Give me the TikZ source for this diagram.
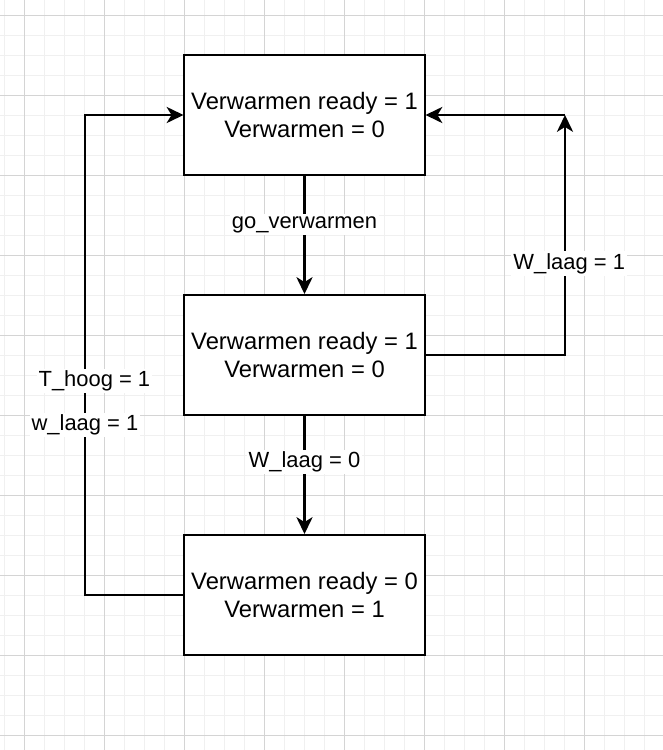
\documentclass[tikz,border=0pt]{standalone}
\usepackage{fontspec}
\setmainfont{Liberation Sans}
\usetikzlibrary{arrows.meta}
\tikzset{
  statebox/.style={draw,line width=1.4pt,fill=white,minimum width=6cm,minimum height=3cm,
    align=center,font=\fontsize{16.9}{20}\selectfont},
  cond/.style={fill=white,inner sep=1.5pt,font=\fontsize{15.6}{18}\selectfont},
  flow/.style={line width=1.5pt,-{Stealth[length=12pt,width=11.5pt,inset=3.5pt]}},
}
\begin{document}
\begin{tikzpicture}[x=0.025cm,y=-0.025cm]
\useasboundingbox (0,0) rectangle (663,750);
\fill[white] (0,0) rectangle (663,750);
% grid
\foreach \g in {4,24,...,663} \draw[black!6,line width=0.7pt] (\g,0) -- (\g,750);
\foreach \g in {15,35,...,750} \draw[black!6,line width=0.7pt] (0,\g) -- (663,\g);
\foreach \g in {24,104,...,663} \draw[black!17,line width=0.7pt] (\g,0) -- (\g,750);
\foreach \g in {15,95,...,750} \draw[black!17,line width=0.7pt] (0,\g) -- (663,\g);
% states
\node[statebox] (s1) at (304.5,115) {Verwarmen ready = 1\\Verwarmen = 0};
\node[statebox] (s2) at (304.5,355) {Verwarmen ready = 1\\Verwarmen = 0};
\node[statebox] (s3) at (304.5,595) {Verwarmen ready = 0\\Verwarmen = 1};
\coordinate (rt) at (565,115);
\coordinate (lt) at (85,115);
% transitions
\draw[flow] (s1.south) -- node[cond,pos=0.41] (c1) {go\_verwarmen} (s2.north);
\draw[flow] (s2.south) -- node[cond,pos=0.39] (c2) {W\_laag = 0} (s3.north);
\draw[flow] (s2.east) -| node[cond,pos=0.69,xshift=3pt] (c3) {W\_laag = 1} (rt);
\draw[flow] (rt) -- (s1.east);
\draw[flow] (s3.west) -| node[cond,pos=0.723,xshift=6.7pt] (c4) {T\_hoog = 1}
  node[cond,pos=0.677] (c5) {w\_laag = 1} (lt) -- (s1.west);
\end{tikzpicture}
\end{document}
